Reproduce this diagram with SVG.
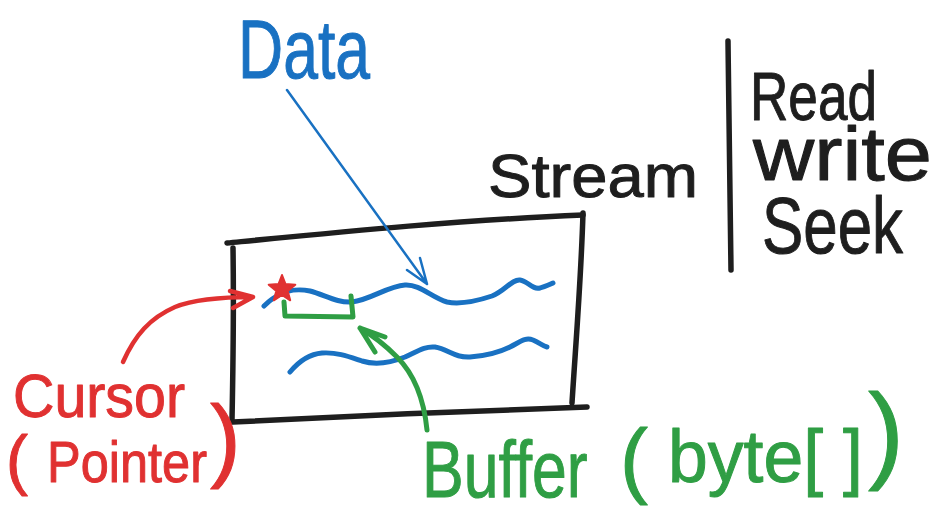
<svg xmlns="http://www.w3.org/2000/svg" width="940" height="531" viewBox="0 0 940 531">
<style>
.ink{fill:none;stroke-linecap:round;stroke-linejoin:round}
.blk{stroke:#1e1e1e;stroke-width:5.5}
.blu{stroke:#1971c2;stroke-width:5}
.grn{stroke:#2f9e44;stroke-width:5}
.red{stroke:#e03131;stroke-width:4.5}
.t{font-family:"Liberation Sans","DejaVu Sans",sans-serif;stroke-linejoin:round}
.tb{fill:#1e1e1e;stroke:#1e1e1e;stroke-width:1}
.tbl{fill:#1971c2;stroke:#1971c2;stroke-width:1}
.tg{fill:#2f9e44;stroke:#2f9e44;stroke-width:1}
.tr{fill:#e03131;stroke:#e03131;stroke-width:1}
</style>
<rect width="940" height="531" fill="#ffffff"/>

<g id="stream-box">
<path class="ink blk" d="M227,243 C340,232 460,220 583,215"/>
<path class="ink blk" d="M583,213 C581,280 576,340 572,403"/>
<path class="ink blk" d="M233,422 C350,416 470,411 587,407"/>
<path class="ink blk" d="M233,248 C234,310 233,370 232,420"/>
</g>

<g id="data-lines">
<path class="ink blu" d="M264,306 C280,290 295,288 310,291 C325,295 337,303 352,302 C370,300 388,286 405,285 C420,284 432,298 447,302 C462,305 480,300 492,296 C505,291 512,279 520,280 C528,281 532,290 540,288 C546,286 549,285 553,283"/>
<path class="ink blu" d="M290,372 C300,360 310,354 322,353 C338,352 350,357 362,361 C375,365 390,363 405,357 C418,351 425,346 435,347 C448,349 455,358 470,357 C485,356 500,352 510,347 C520,342 525,337 533,340 C540,343 543,346 547,347"/>
</g>

<g id="buffer-bracket">
<path class="ink grn" d="M284,302 L285,316 L353,317 L351,296"/>
</g>

<g id="cursor-star">
<polygon points="282,275 285.5,284.1 295.3,284.7 287.7,290.9 290.2,300.3 282,295 273.8,300.3 276.3,290.9 268.7,284.7 278.5,284.1" fill="#e03131" stroke="#e03131" stroke-width="2" stroke-linejoin="round"/>
</g>

<g id="divider">
<path class="ink blk" d="M728,41 C729,120 730,200 731,270"/>
</g>

<g id="label-data"><text class="t tbl" x="238" y="78" font-size="84" textLength="132" lengthAdjust="spacingAndGlyphs">Data</text></g>
<g id="label-stream"><text class="t tb" x="488" y="197" font-size="62" textLength="210" lengthAdjust="spacingAndGlyphs">Stream</text></g>
<g id="label-ops">
<text class="t tb" x="750" y="120" font-size="68" textLength="127" lengthAdjust="spacingAndGlyphs">Read</text>
<text class="t tb" x="753" y="180" font-size="76" textLength="179" lengthAdjust="spacingAndGlyphs">write</text>
<text class="t tb" x="762" y="253" font-size="80" textLength="141" lengthAdjust="spacingAndGlyphs">Seek</text>
</g>
<g id="label-cursor">
<text class="t tr" x="13" y="417" font-size="62" textLength="172" lengthAdjust="spacingAndGlyphs">Cursor</text>
<text class="t tr" y="482"><tspan x="6" font-size="66">( </tspan><tspan x="47" font-size="58" textLength="160" lengthAdjust="spacingAndGlyphs">Pointer</tspan><tspan x="210" y="470" font-size="92">)</tspan></text>
</g>
<g id="label-buffer">
<text class="t tg" y="497"><tspan x="422" font-size="80" textLength="183" lengthAdjust="spacingAndGlyphs">Buffer </tspan><tspan x="620" y="488" font-size="84">( </tspan><tspan x="668" y="482" font-size="75" textLength="195" lengthAdjust="spacingAndGlyphs">byte[ ]</tspan><tspan x="868" y="469" font-size="108">)</tspan></text>
</g>

<g id="connectors">
<path class="ink" stroke="#1971c2" stroke-width="2.5" d="M287,90 L427,284 M420,258 L427,284 L407,270"/>
<path class="ink red" d="M123,362 C135,335 150,318 175,307 C195,299 225,297 253,297 M230,291 L253,297 L233,308"/>
<path class="ink grn" d="M427,430 C424,400 415,375 397,357 C385,345 372,335 360,328 M385,337 L360,328 L375,352"/>
</g>
</svg>
